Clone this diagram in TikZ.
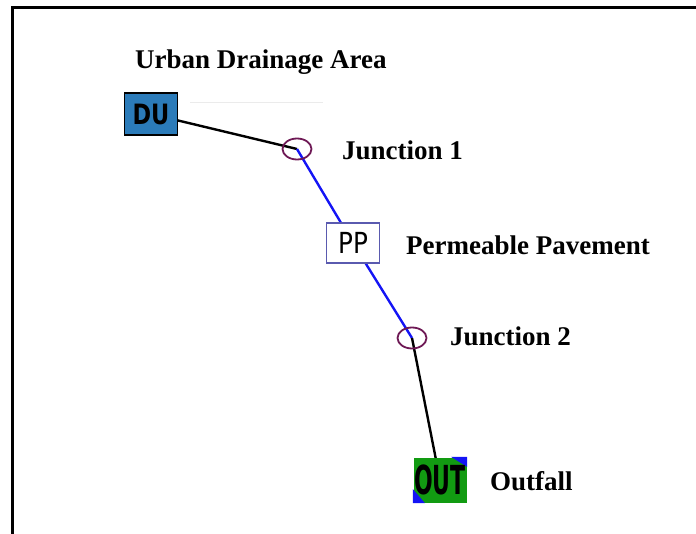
\documentclass[tikz,border=0pt]{standalone}
\usepackage{fontspec}
\usepackage{graphicx}
\setmainfont{Liberation Serif}
\newfontfamily\iconfont{DejaVu Sans}
\usetikzlibrary{backgrounds,shapes.geometric}
\definecolor{areablue}{RGB}{43,123,185}
\definecolor{junctionpurple}{RGB}{110,25,85}
\definecolor{ppframe}{RGB}{90,90,175}
\definecolor{outgreen}{RGB}{18,155,18}
\definecolor{linkblue}{RGB}{20,20,245}
\tikzset{
  lbl/.style={anchor=west, inner sep=0pt, font=\fontsize{27}{30}\selectfont\bfseries},
  junction/.style={ellipse, minimum width=30pt, minimum height=22pt, inner sep=0pt},
  iconbox/.style={draw, line width=1.2pt, inner sep=0pt, minimum width=53pt},
  conduit/.style={line width=2.4pt, black},
  bluelink/.style={line width=2.4pt, linkblue},
}
\begin{document}
\begin{tikzpicture}[x=1pt,y=-1pt]
\useasboundingbox (0,0) rectangle (696,534);
% frame (open on right and bottom)
\draw[line width=3pt] (12,534) -- (12,8) -- (696,8);
% faint guide line next to the drainage area
\draw[line width=1pt, black!8] (190,103) -- (323,103);

% nodes
\node[iconbox, fill=areablue, minimum height=42pt] (du) at (151,114)
  {\iconfont\bfseries\fontsize{28}{28}\selectfont\scalebox{0.8}[1]{DU}};
\node[junction] (j1) at (297,149) {};
\node[iconbox, draw=ppframe, fill=white, minimum height=40pt] (pp) at (353,243)
  {\iconfont\fontsize{29}{29}\selectfont\scalebox{0.85}[1]{PP}};
\node[junction] (j2) at (412,338) {};
\node[iconbox, draw=none, fill=outgreen, minimum height=45pt] (out) at (440,480) {};
\fill[linkblue] (out.south west) -- ++(0,-14) -- ++(12,14) -- cycle;
\fill[linkblue] (out.north east) -- ++(-16,0) -- ++(16,10) -- cycle;
\node[inner sep=0pt] at (out.center) {\iconfont\bfseries\fontsize{40}{40}\selectfont\scalebox{0.55}[1]{OUT}};

% labels
\node[lbl] (lda) at (135,62) {Urban Drainage Area};
\node[lbl] (lj1) at (342,150) {Junction 1};
\node[lbl] (lpp) at (406,245) {Permeable Pavement};
\node[lbl] (lj2) at (450,336) {Junction 2};
\node[lbl] (lout) at (490,481) {Outfall};

% connectors
\begin{scope}[on background layer]
\draw[conduit] (du.center) -- (j1.center);
\draw[bluelink] (j1.center) -- (pp.center);
\draw[bluelink] (pp.center) -- (j2.center);
\draw[conduit] (j2.center) -- (out.center);
\end{scope}
% junction outlines over the links
\draw[junctionpurple, line width=1.8pt] (j1.center) ellipse [x radius=14.5pt, y radius=10.5pt];
\draw[junctionpurple, line width=1.8pt] (j2.center) ellipse [x radius=14.5pt, y radius=10.5pt];
\end{tikzpicture}
\end{document}
